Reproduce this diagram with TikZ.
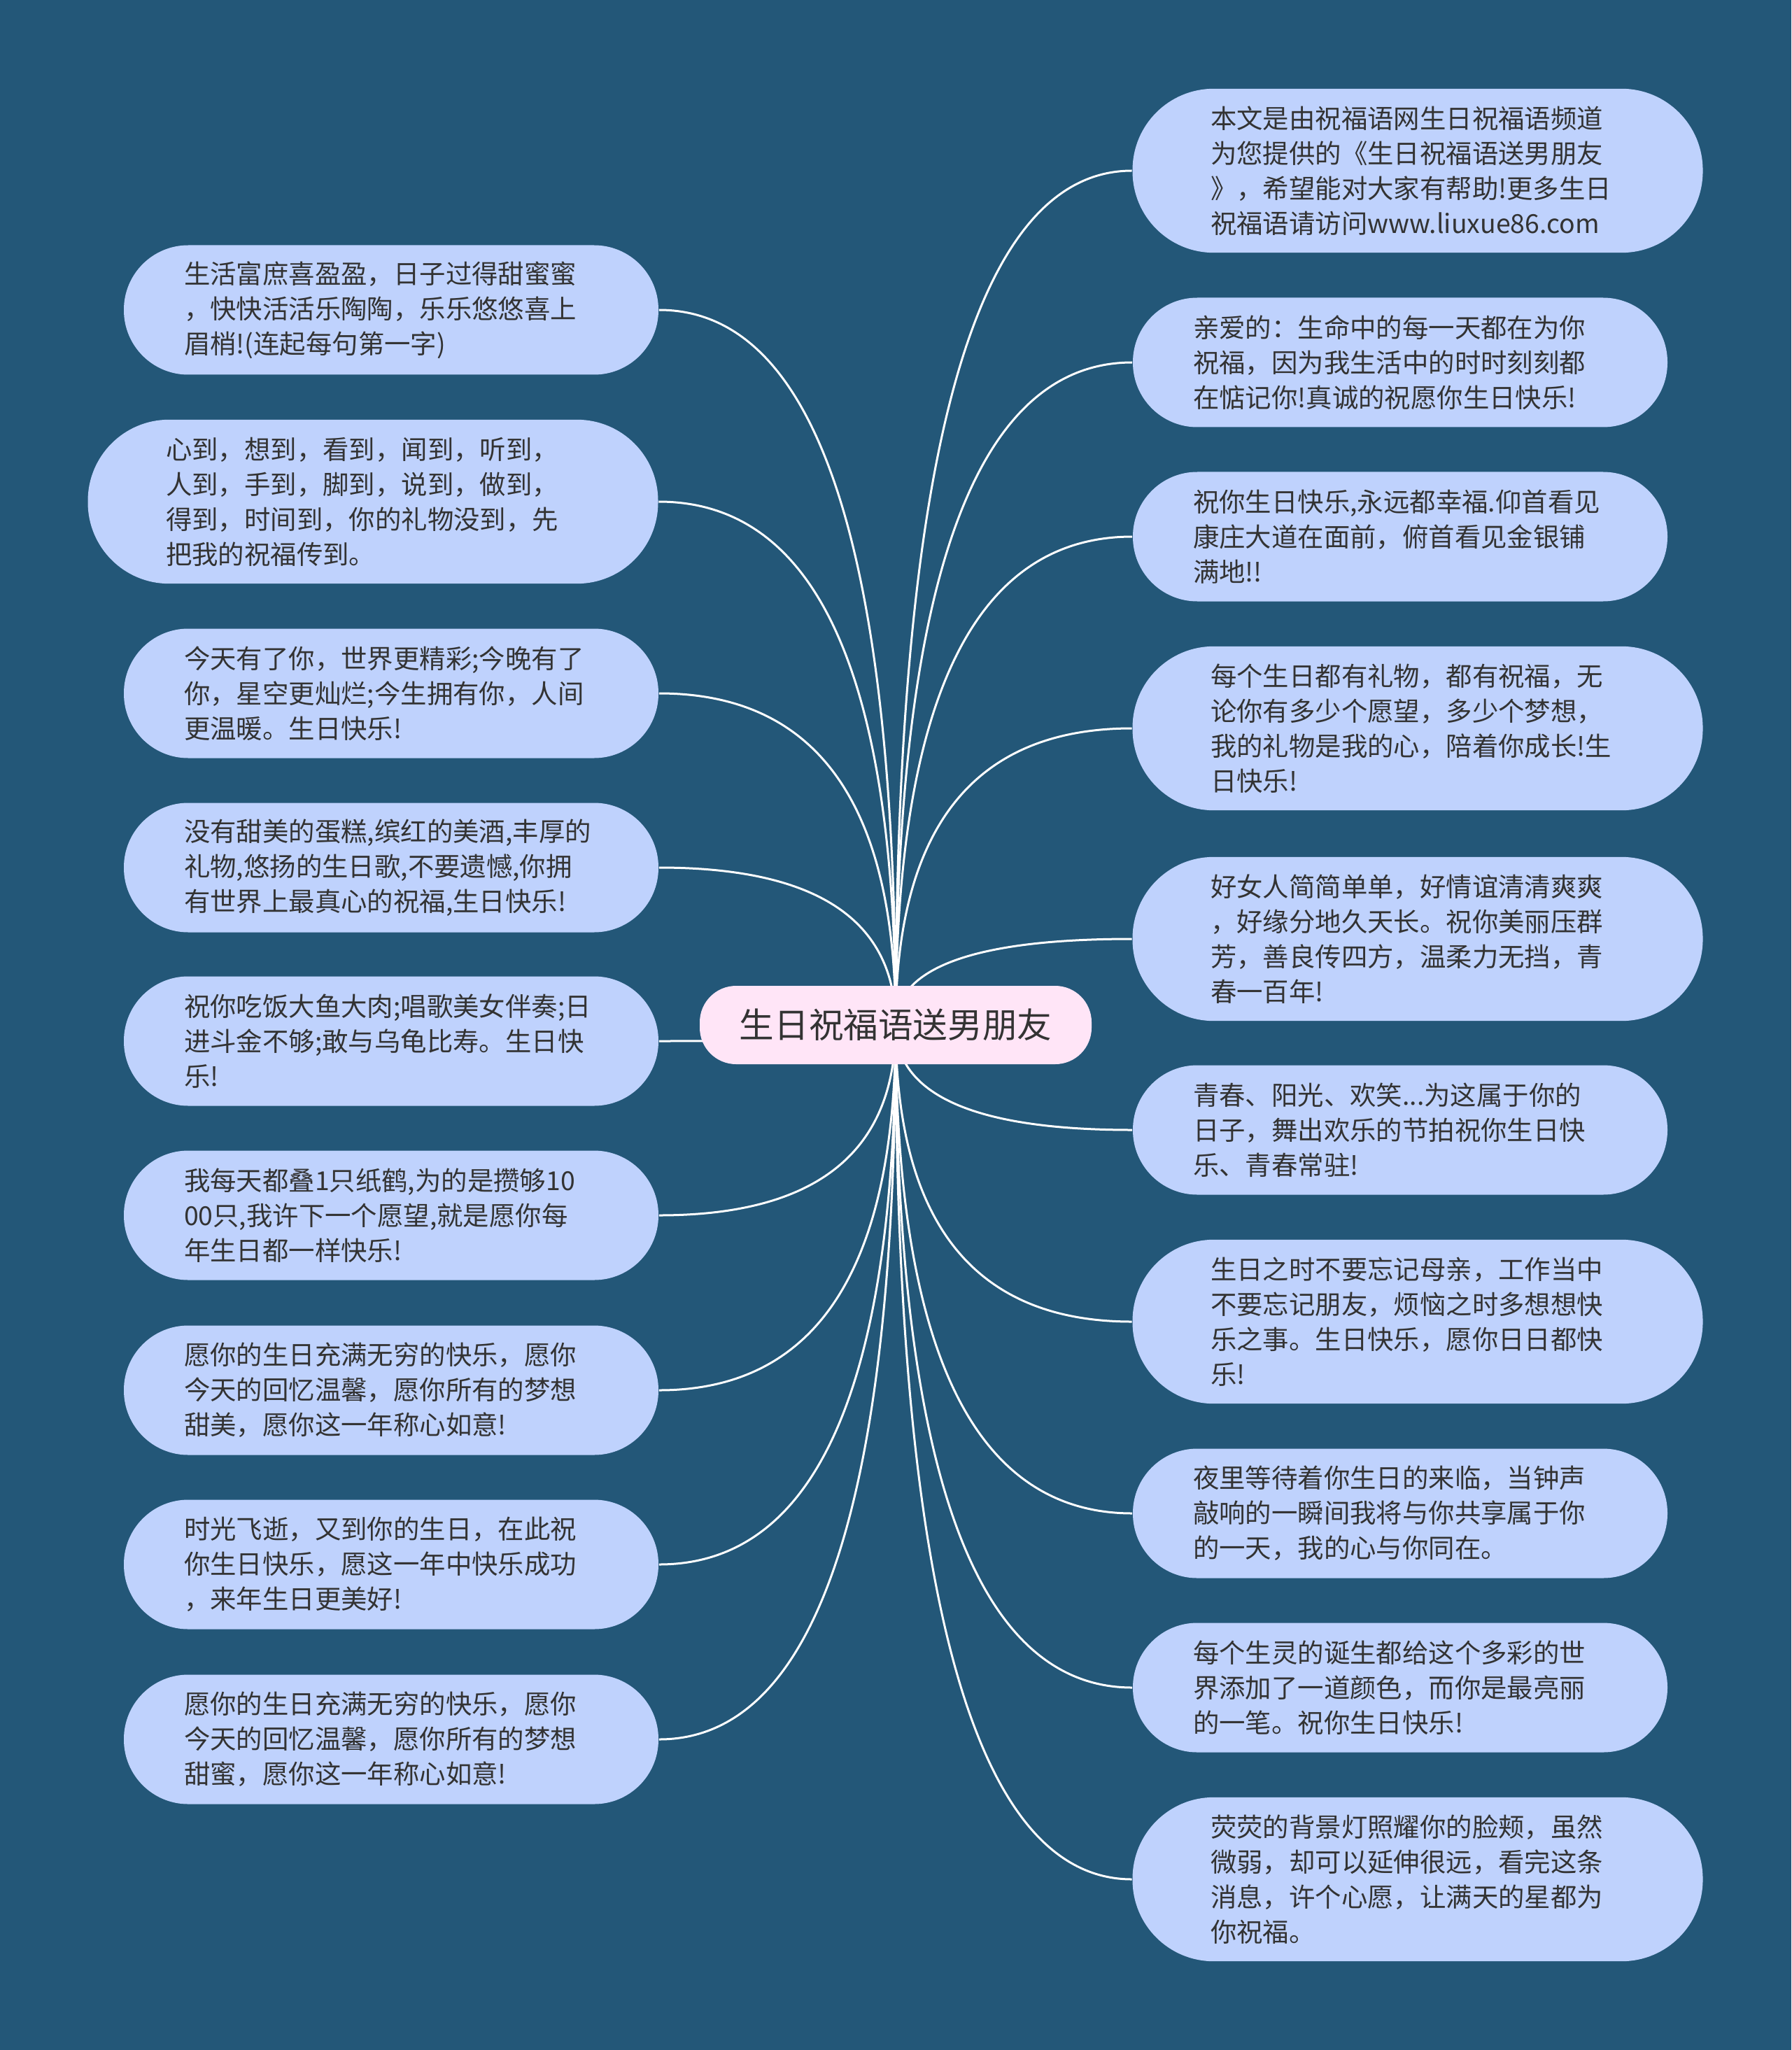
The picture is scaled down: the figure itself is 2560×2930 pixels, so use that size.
\documentclass[tikz,border=0pt]{standalone}
\usepackage{fontspec}
\setmainfont{Noto Sans CJK SC}
\usepackage{xcolor}
\usepackage{tikz}
\usetikzlibrary{calc, backgrounds}
\definecolor{canvas}{RGB}{35, 87, 120}
\definecolor{leafbg}{RGB}{191, 210, 253}
\definecolor{rootbg}{RGB}{255, 229, 247}
\definecolor{inkgray}{RGB}{51, 51, 51}

\begin{document}
\begin{tikzpicture}[
    x=0.25pt, y=-0.25pt,
    rootBox/.style={rectangle, fill=rootbg, text=inkgray, rounded corners=13pt, minimum width=140pt, minimum height=28pt, font=\fontsize{12.4pt}{15pt}\selectfont, inner sep=0pt},
    leafBase/.style={rectangle, fill=leafbg, text=inkgray, align=left, text width=148pt, inner xsep=0pt, inner ysep=3pt, font=\fontsize{9.35pt}{12.5pt}\selectfont},
    leafThree/.style={leafBase, minimum width=191pt, minimum height=46.25pt, rounded corners=23pt},
    leafFour/.style={leafBase, minimum width=203.75pt, minimum height=58.6pt, rounded corners=29pt},
    branchEdge/.style={draw=white, line width=0.75pt, to path={.. controls ($(\tikztostart)!0.667!(\tikztostart |- \tikztotarget)$) and ($(\tikztotarget)!0.667!(\tikztostart |- \tikztotarget)$) .. (\tikztotarget)}}
]

% Canvas
\begin{scope}[on background layer]
\fill[canvas] (0, 0) rectangle (2560, 2930);
\end{scope}

% Root
\node[rootBox] (root) at (1280, 1465) {生日祝福语送男朋友};

% Left branch
\node[leafThree] (left1) at (559, 443) {生活富庶喜盈盈，日子过得甜蜜蜜\\，快快活活乐陶陶，乐乐悠悠喜上\\眉梢!(连起每句第一字)};
\node[leafFour] (left2) at (533, 717) {心到，想到，看到，闻到，听到，\\人到，手到，脚到，说到，做到，\\得到，时间到，你的礼物没到，先\\把我的祝福传到。};
\node[leafThree] (left3) at (559, 991) {今天有了你，世界更精彩;今晚有了\\你，星空更灿烂;今生拥有你，人间\\更温暖。生日快乐!};
\node[leafThree] (left4) at (559, 1240) {没有甜美的蛋糕,缤红的美酒,丰厚的\\礼物,悠扬的生日歌,不要遗憾,你拥\\有世界上最真心的祝福,生日快乐!};
\node[leafThree] (left5) at (559, 1488) {祝你吃饭大鱼大肉;唱歌美女伴奏;日\\进斗金不够;敢与乌龟比寿。生日快\\乐!};
\node[leafThree] (left6) at (559, 1737) {我每天都叠1只纸鹤,为的是攒够10\\00只,我许下一个愿望,就是愿你每\\年生日都一样快乐!};
\node[leafThree] (left7) at (559, 1987) {愿你的生日充满无穷的快乐，愿你\\今天的回忆温馨，愿你所有的梦想\\甜美，愿你这一年称心如意!};
\node[leafThree] (left8) at (559, 2236) {时光飞逝，又到你的生日，在此祝\\你生日快乐，愿这一年中快乐成功\\，来年生日更美好!};
\node[leafThree] (left9) at (559, 2486) {愿你的生日充满无穷的快乐，愿你\\今天的回忆温馨，愿你所有的梦想\\甜蜜，愿你这一年称心如意!};

% Right branch
\node[leafFour] (right1) at (2026, 244) {本文是由祝福语网生日祝福语频道\\为您提供的《生日祝福语送男朋友\\》，希望能对大家有帮助!更多生日\\祝福语请访问www.liuxue86.com};
\node[leafThree] (right2) at (2001, 518) {亲爱的：生命中的每一天都在为你\\祝福，因为我生活中的时时刻刻都\\在惦记你!真诚的祝愿你生日快乐!};
\node[leafThree] (right3) at (2001, 767) {祝你生日快乐,永远都幸福.仰首看见\\康庄大道在面前，俯首看见金银铺\\满地!!};
\node[leafFour] (right4) at (2026, 1041) {每个生日都有礼物，都有祝福，无\\论你有多少个愿望，多少个梦想，\\我的礼物是我的心，陪着你成长!生\\日快乐!};
\node[leafFour] (right5) at (2026, 1342) {好女人简简单单，好情谊清清爽爽\\，好缘分地久天长。祝你美丽压群\\芳，善良传四方，温柔力无挡，青\\春一百年!};
\node[leafThree] (right6) at (2001, 1615) {青春、阳光、欢笑...为这属于你的\\日子，舞出欢乐的节拍祝你生日快\\乐、青春常驻!};
\node[leafFour] (right7) at (2026, 1889) {生日之时不要忘记母亲，工作当中\\不要忘记朋友，烦恼之时多想想快\\乐之事。生日快乐，愿你日日都快\\乐!};
\node[leafThree] (right8) at (2001, 2163) {夜里等待着你生日的来临，当钟声\\敲响的一瞬间我将与你共享属于你\\的一天，我的心与你同在。};
\node[leafThree] (right9) at (2001, 2412) {每个生灵的诞生都给这个多彩的世\\界添加了一道颜色，而你是最亮丽\\的一笔。祝你生日快乐!};
\node[leafFour] (right10) at (2026, 2686) {荧荧的背景灯照耀你的脸颊，虽然\\微弱，却可以延伸很远，看完这条\\消息，许个心愿，让满天的星都为\\你祝福。};

% Branches
\begin{scope}[on background layer]
\draw[branchEdge] (root.center) to (left1.east);
\draw[branchEdge] (root.center) to (left2.east);
\draw[branchEdge] (root.center) to (left3.east);
\draw[branchEdge] (root.center) to (left4.east);
\draw[branchEdge] (root.center) to (left5.east);
\draw[branchEdge] (root.center) to (left6.east);
\draw[branchEdge] (root.center) to (left7.east);
\draw[branchEdge] (root.center) to (left8.east);
\draw[branchEdge] (root.center) to (left9.east);
\draw[branchEdge] (root.center) to (right1.west);
\draw[branchEdge] (root.center) to (right2.west);
\draw[branchEdge] (root.center) to (right3.west);
\draw[branchEdge] (root.center) to (right4.west);
\draw[branchEdge] (root.center) to (right5.west);
\draw[branchEdge] (root.center) to (right6.west);
\draw[branchEdge] (root.center) to (right7.west);
\draw[branchEdge] (root.center) to (right8.west);
\draw[branchEdge] (root.center) to (right9.west);
\draw[branchEdge] (root.center) to (right10.west);
\end{scope}

\end{tikzpicture}
\end{document}
